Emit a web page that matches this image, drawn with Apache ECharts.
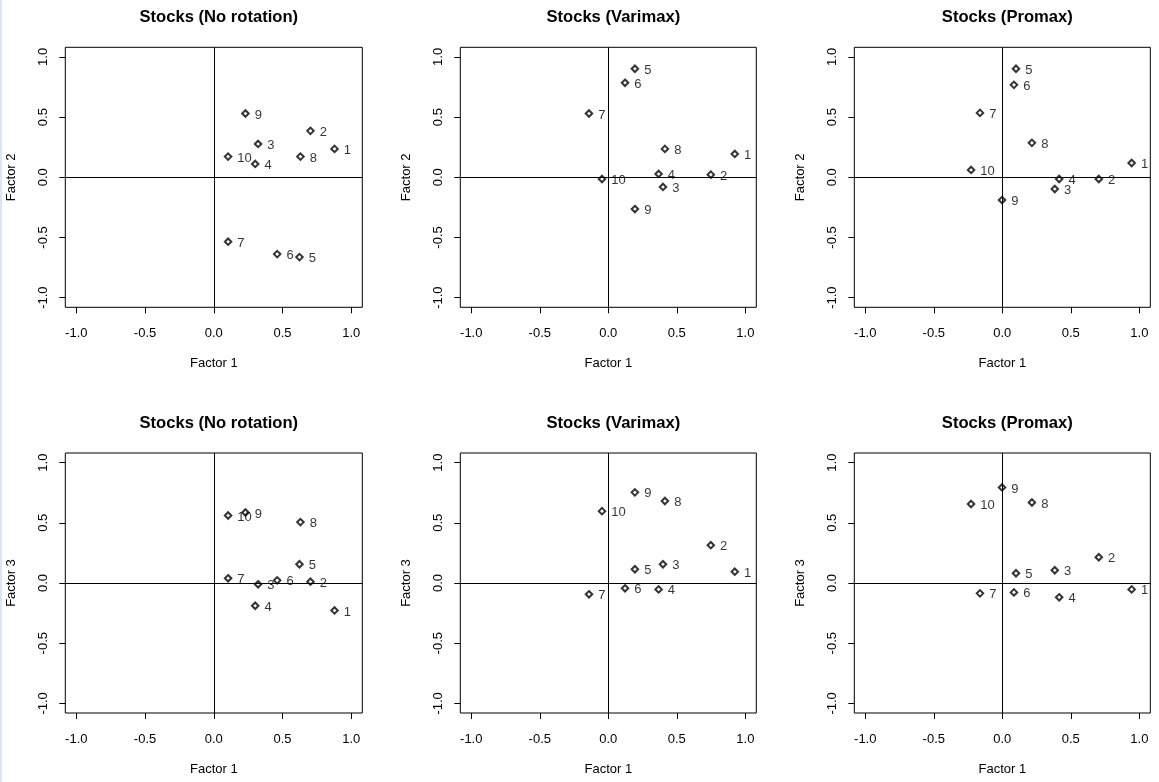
<!DOCTYPE html>
<html>
<head>
<meta charset="utf-8">
<script src="https://cdn.jsdelivr.net/npm/echarts@6/dist/echarts.min.js"></script>
<style>
  html, body { margin: 0; padding: 0; background: #fff; }
  #chart { width: 1159px; height: 782px; }
  #strip { position: absolute; left: 0; top: 0; width: 2px; height: 782px; background: #dae6f5; z-index: 10; }
</style>
</head>
<body>
<div id="strip"></div>
<div id="chart"></div>
<script>
// ---- data ----
const pointLabels = ['1', '2', '3', '4', '5', '6', '7', '8', '9', '10'];
const tickValues = [-1, -0.5, 0, 0.5, 1];

const noRotF1 = [0.878, 0.703, 0.322, 0.301, 0.623, 0.461, 0.104, 0.630, 0.230, 0.104];
const noRotF2 = [0.236, 0.386, 0.277, 0.111, -0.663, -0.638, -0.535, 0.172, 0.530, 0.172];
const noRotF3 = [-0.228, 0.011, -0.011, -0.189, 0.156, 0.022, 0.039, 0.506, 0.586, 0.561];

const varimaxF1 = [0.923, 0.748, 0.399, 0.367, 0.194, 0.122, -0.141, 0.413, 0.194, -0.046];
const varimaxF2 = [0.194, 0.022, -0.080, 0.028, 0.902, 0.785, 0.530, 0.236, -0.264, -0.014];
const varimaxF3 = [0.094, 0.314, 0.156, -0.053, 0.114, -0.044, -0.094, 0.681, 0.753, 0.597];

const promaxF1 = [0.944, 0.704, 0.383, 0.415, 0.100, 0.085, -0.163, 0.216, -0.002, -0.228];
const promaxF2 = [0.119, -0.014, -0.097, -0.014, 0.902, 0.768, 0.535, 0.286, -0.189, 0.061];
const promaxF3 = [-0.053, 0.214, 0.106, -0.119, 0.081, -0.078, -0.086, 0.669, 0.794, 0.656];

const panelTitles = ['Stocks (No rotation)', 'Stocks (Varimax)', 'Stocks (Promax)'];
const xAxisTitle = 'Factor 1';

// ---- panels ----
const panels = [
  { title: panelTitles[0], xs: noRotF1, ys: noRotF2, yName: 'Factor 2' },
  { title: panelTitles[1], xs: varimaxF1, ys: varimaxF2, yName: 'Factor 2' },
  { title: panelTitles[2], xs: promaxF1, ys: promaxF2, yName: 'Factor 2' },
  { title: panelTitles[0], xs: noRotF1, ys: noRotF3, yName: 'Factor 3' },
  { title: panelTitles[1], xs: varimaxF1, ys: varimaxF3, yName: 'Factor 3' },
  { title: panelTitles[2], xs: promaxF1, ys: promaxF3, yName: 'Factor 3' }
];

const FONT = '"Liberation Sans", Arial, sans-serif';
const colLeft = [65.3, 460.3, 854.3];
const colWidth = [297, 296, 296];
const rowTop = [47.3, 453];
const rowHeight = 260;
const titleTop = [4, 410];

const option = {
  animation: false,
  backgroundColor: '#fff',
  title: [], grid: [], xAxis: [], yAxis: [], series: []
};

const fmt = v => (Math.abs(v) < 1e-9 ? 0 : v).toFixed(1);

panels.forEach((p, i) => {
  const c = i % 3, r = Math.floor(i / 3);
  option.title.push({
    text: p.title,
    left: colLeft[c] + colWidth[c] / 2,
    top: titleTop[r],
    textAlign: 'center',
    textStyle: { fontFamily: FONT, fontSize: 16.6, fontWeight: 'bold', color: '#000' }
  });
  option.grid.push({
    left: colLeft[c], top: rowTop[r], width: colWidth[c], height: rowHeight,
    show: true, borderColor: '#000', borderWidth: 1, backgroundColor: 'transparent',
    containLabel: false, outerBoundsMode: 'none'
  });
  option.xAxis.push({
    type: 'value', gridIndex: i, min: -1.08, max: 1.08,
    name: xAxisTitle, nameLocation: 'middle', nameGap: 50,
    nameTextStyle: { fontFamily: FONT, fontSize: 13, color: '#000' },
    axisLine: { show: false, onZero: false },
    axisTick: { show: true, length: 6, inside: false, customValues: tickValues, lineStyle: { color: '#000', width: 1 } },
    axisLabel: { show: true, customValues: tickValues, formatter: fmt, margin: 20, fontFamily: FONT, fontSize: 13, color: '#000', showMinLabel: true, showMaxLabel: true },
    splitLine: { show: false }
  });
  option.yAxis.push({
    type: 'value', gridIndex: i, min: -1.08, max: 1.08,
    name: p.yName, nameLocation: 'middle', nameGap: 47,
    nameTextStyle: { fontFamily: FONT, fontSize: 13, color: '#000' },
    axisLine: { show: false, onZero: false },
    axisTick: { show: true, length: 6, inside: false, customValues: tickValues, lineStyle: { color: '#000', width: 1 } },
    axisLabel: { show: true, rotate: 90, customValues: tickValues, formatter: fmt, margin: 15, fontFamily: FONT, fontSize: 13, color: '#000', showMinLabel: true, showMaxLabel: true },
    splitLine: { show: false }
  });
  option.series.push({
    type: 'scatter', xAxisIndex: i, yAxisIndex: i,
    symbol: 'emptyDiamond', symbolSize: 6.5,
    itemStyle: { color: '#000', borderColor: '#000', borderWidth: 0.75 },
    label: {
      show: true, position: 'right', distance: 5, offset: [0, 1.5],
      formatter: d => d.name, fontFamily: FONT, fontSize: 13, color: '#000'
    },
    data: p.xs.map((x, k) => ({ name: pointLabels[k], value: [x, p.ys[k]] })),
    markLine: {
      silent: true, symbol: ['none', 'none'], animation: false,
      label: { show: false },
      lineStyle: { color: '#000', width: 1, type: 'solid' },
      data: [{ xAxis: 0 }, { yAxis: 0 }]
    },
    z: 3
  });
});

const chart = echarts.init(document.getElementById('chart'), null, { renderer: 'canvas' });
chart.setOption(option);
</script>
</body>
</html>
